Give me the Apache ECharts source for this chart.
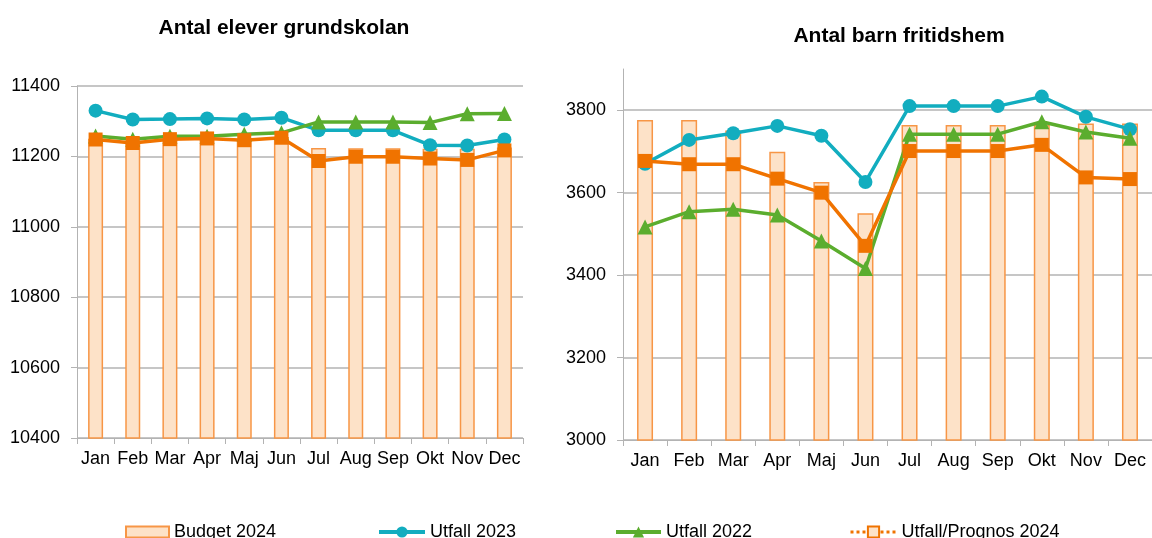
<!DOCTYPE html>
<html lang="sv">
<head>
    <meta charset="UTF-8">
    <title>Antal elever och barn</title>
    <script src="https://cdn.jsdelivr.net/npm/echarts@6/dist/echarts.min.js"></script>
    <style>
        html, body { margin: 0; padding: 0; background: #fff; }
    </style>
</head>
<body>
<div id="container" style="width: 1152px; height: 538px"></div>

<script type="text/javascript">
    var months = ['Jan', 'Feb', 'Mar', 'Apr', 'Maj', 'Jun', 'Jul', 'Aug', 'Sep', 'Okt', 'Nov', 'Dec'];

    // Antal elever grundskolan
    var skolaBudget2024 = [11250, 11240, 11250, 11255, 11245, 11255, 11224, 11223, 11223, 11222, 11222, 11225];
    var skolaUtfall2023 = [11330, 11305, 11306, 11308, 11305, 11310, 11274, 11274, 11274, 11232, 11231, 11248];
    var skolaUtfall2022 = [11258, 11249, 11257, 11257, 11263, 11267, 11298, 11298, 11298, 11296, 11321, 11322];
    var skolaPrognos2024 = [11248, 11238, 11249, 11251, 11246, 11253, 11187, 11199, 11199, 11194, 11190, 11217];

    // Antal barn fritidshem
    var fritidsBudget2024 = [3776, 3776, 3751, 3699, 3626, 3550, 3764, 3764, 3764, 3764, 3768, 3768];
    var fritidsUtfall2023 = [3670, 3728, 3744, 3762, 3738, 3626, 3810, 3810, 3810, 3833, 3784, 3754];
    var fritidsUtfall2022 = [3517, 3554, 3560, 3546, 3483, 3416, 3742, 3742, 3742, 3772, 3747, 3732];
    var fritidsPrognos2024 = [3677, 3669, 3669, 3634, 3600, 3471, 3701, 3701, 3701, 3716, 3637, 3633];

    var titles = ['Antal elever grundskolan', 'Antal barn fritidshem'];

    var font = "'Liberation Sans', Arial, sans-serif";
    var teal = '#12adbf';
    var green = '#5bad2e';
    var orange = '#f07300';
    var barFill = '#fde2c8';
    var barBorder = '#f79646';
    var gridGrey = '#b3b3b3';

    var dom = document.getElementById('container');
    var myChart = echarts.init(dom, null, { renderer: 'canvas' });

    function xAxis(gridIndex) {
        return {
            type: 'category',
            gridIndex: gridIndex,
            data: months,
            axisLine: { lineStyle: { color: gridGrey, width: 1 } },
            axisTick: { show: true, length: 6, lineStyle: { color: gridGrey } },
            axisLabel: { color: '#000', fontSize: 18, fontFamily: font, margin: 12, interval: 0 }
        };
    }

    function yAxis(gridIndex, min, max) {
        return {
            type: 'value',
            gridIndex: gridIndex,
            min: min,
            max: max,
            interval: 200,
            axisLine: { show: true, lineStyle: { color: gridGrey, width: 1 } },
            axisTick: { show: true, length: 6, lineStyle: { color: gridGrey } },
            axisLabel: {
                color: '#000', fontSize: 18, fontFamily: font, margin: 17,
                showMaxLabel: gridIndex === 0,
                formatter: function (v) { return String(v); }
            },
            splitLine: { show: true, showMaxLine: gridIndex === 0, lineStyle: { color: gridGrey, width: 1.5 } }
        };
    }

    function barSeries(idx, data, width) {
        return {
            name: 'Budget 2024',
            type: 'bar',
            xAxisIndex: idx,
            yAxisIndex: idx,
            data: data,
            barWidth: width,
            itemStyle: { color: barFill, borderColor: barBorder, borderWidth: 1.5 },
            z: 1
        };
    }

    function lineSeries(idx, name, data, color, symbol, size) {
        return {
            name: name,
            type: 'line',
            xAxisIndex: idx,
            yAxisIndex: idx,
            data: data,
            symbol: symbol,
            symbolSize: size,
            lineStyle: { color: color, width: 3.5 },
            itemStyle: { color: color },
            z: 3
        };
    }

    var series = [
        barSeries(0, skolaBudget2024, 15),
        lineSeries(0, 'Utfall 2023', skolaUtfall2023, teal, 'circle', 14),
        lineSeries(0, 'Utfall 2022', skolaUtfall2022, green, 'triangle', 15),
        lineSeries(0, 'Utfall/Prognos 2024', skolaPrognos2024, orange, 'rect', 14),
        barSeries(1, fritidsBudget2024, 16),
        lineSeries(1, 'Utfall 2023', fritidsUtfall2023, teal, 'circle', 14),
        lineSeries(1, 'Utfall 2022', fritidsUtfall2022, green, 'triangle', 15),
        lineSeries(1, 'Utfall/Prognos 2024', fritidsPrognos2024, orange, 'rect', 14)
    ];

    function legend(left, item, w, h) {
        return {
            left: left,
            top: 518,
            itemWidth: w,
            itemHeight: h,
            textStyle: { color: '#000', fontSize: 18, fontFamily: font },
            data: [item]
        };
    }

    var option = {
        animation: false,
        backgroundColor: '#fff',
        title: [
            {
                text: titles[0], left: 279, top: 13, textAlign: 'center',
                textStyle: { fontSize: 21, fontWeight: 'bold', fontFamily: font, color: '#000' }
            },
            {
                text: titles[1], left: 894, top: 21, textAlign: 'center',
                textStyle: { fontSize: 21, fontWeight: 'bold', fontFamily: font, color: '#000' }
            }
        ],
        legend: [
            legend(120, { name: 'Budget 2024', icon: 'rect' }, 43, 11),
            legend(372, { name: 'Utfall 2023', lineStyle: { width: 4 } }, 46, 14),
            legend(609, { name: 'Utfall 2022', lineStyle: { width: 4 } }, 45, 14),
            legend(844, {
                name: 'Utfall/Prognos 2024',
                lineStyle: { type: 'dotted', width: 3 },
                itemStyle: { color: barFill, borderColor: orange, borderWidth: 2 }
            }, 46, 14)
        ],
        grid: [
            { left: 77, right: 629, top: 86, bottom: 100 },
            { left: 623, right: 0, top: 69, bottom: 98 }
        ],
        xAxis: [xAxis(0), xAxis(1)],
        yAxis: [yAxis(0, 10400, 11400), yAxis(1, 3000, 3900)],
        series: series
    };

    myChart.setOption(option);
    window.addEventListener('resize', myChart.resize);
</script>
</body>
</html>
